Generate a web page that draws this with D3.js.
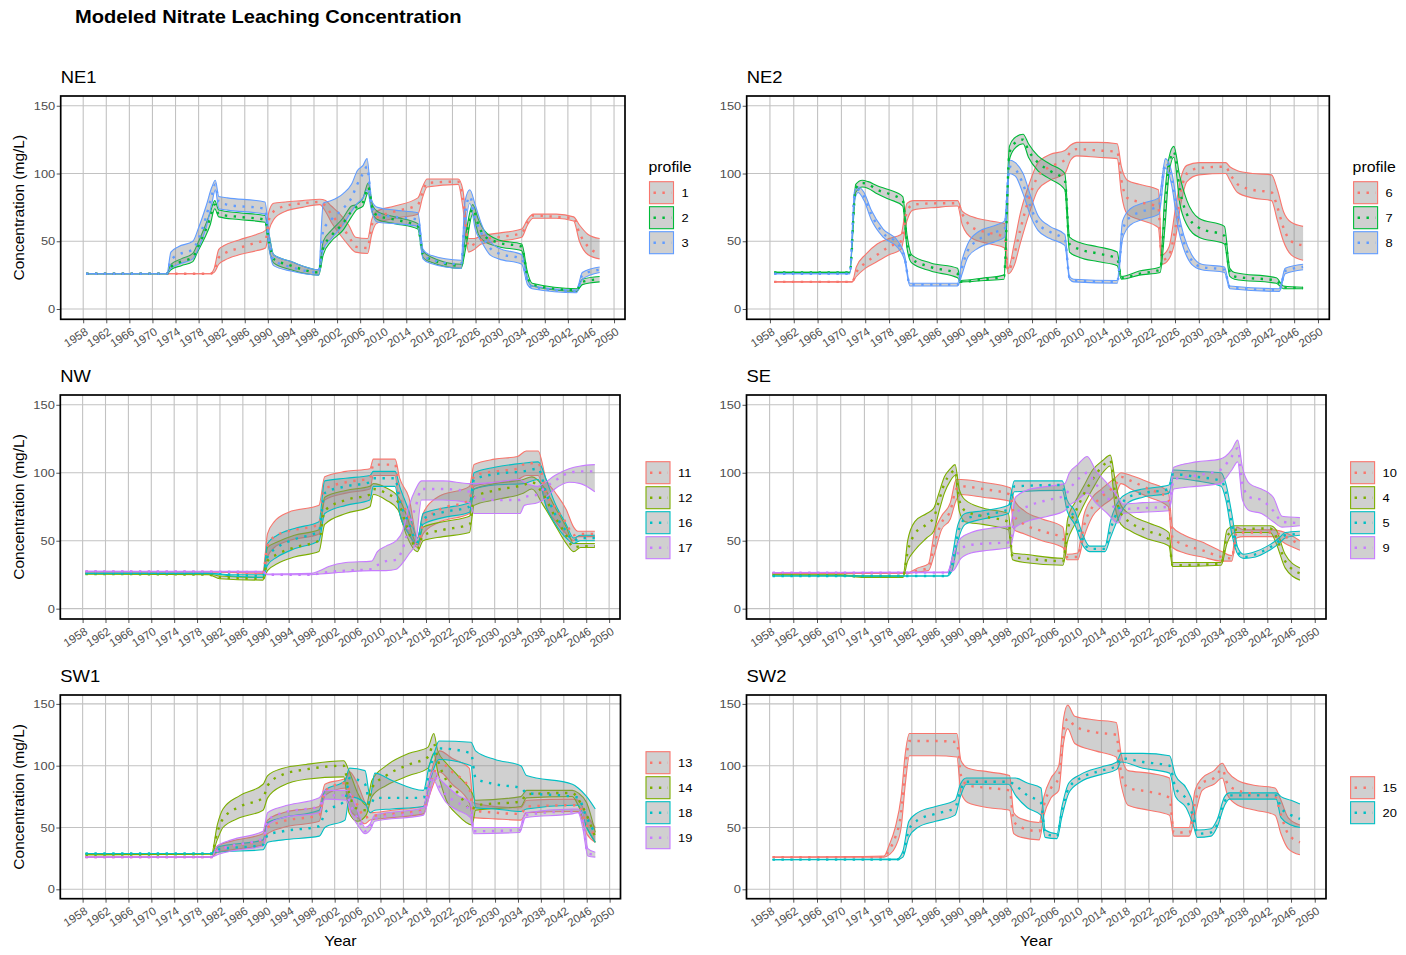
<!DOCTYPE html>
<html>
<head>
<meta charset="utf-8">
<script src="https://cdn.jsdelivr.net/npm/d3@7"></script>
<style>
  body { margin: 0; background: #fff; }
  text { font-family: "Liberation Sans", Arial, sans-serif; }
</style>
</head>
<body>
<div id="chart"></div>
<script>
// each row: [year, min, mean, max]
var ne1_p1 = [[1958.5,26,26,26],[1980,26,26,26],[1980.7,27,28,30],[1981.5,33,38,44],[1982.5,36,41,47],[1985,40,45,51],[1988,43,49,55],[1989.6,45,51,58],[1990.2,58,66,72],[1991,66,72,78],[1993,72,76,79],[1996,75,78,80],[1999,77,79,81],[2000,72,76,80],[2001,64,70,76],[2002.5,55,62,70],[2004,47,54,62],[2005.2,42,46,53],[2007.3,41,45,52],[2008,55,62,66],[2008.8,63,67,72],[2012,67,72,76],[2016,70,77,82],[2016.8,82,86,90],[2017.6,90,93,96],[2023,92,94,96],[2023.8,75,82,88],[2024.8,42,46,52],[2025.8,44,48,52],[2027,48,51,54],[2030,50,53,56],[2034,53,56,59],[2035,62,64,66],[2036,67,69,70],[2040,67,68,70],[2043,65,67,68],[2044,50,56,62],[2045.5,40,46,55],[2047.5,37,41,52]];
var ne1_p2 = [[1958.5,26,26,26],[1972.5,26,26,26],[1973.2,29,31,33],[1975,32,35,37],[1977,35,38,41],[1977.8,42,45,48],[1979,52,56,60],[1980,62,67,71],[1980.8,74,77,80],[1981.5,68,70,73],[1985,66,68,71],[1989.5,64,66,69],[1990.2,45,50,55],[1991,34,37,40],[1994,29,32,35],[1998.8,25,27,29],[1999.6,40,45,50],[2001,50,54,58],[2003,58,63,67],[2004.5,68,72,76],[2005.3,73,75,77],[2006.5,76,79,82],[2007.4,86,90,93],[2008.2,70,73,76],[2009,66,69,72],[2012,63,66,68],[2016,59,61,63],[2016.9,38,40,43],[2018,35,37,39],[2023.5,30,32,33],[2024.3,45,50,55],[2025.5,70,74,77],[2026.5,55,62,66],[2027.5,50,54,58],[2030,46,49,51],[2034,43,46,48],[2035,22,24,27],[2035.8,17,18,19],[2043.5,13,14,15],[2044.5,18,20,22],[2047.5,20,22,24]];
var ne1_p3 = [[1958.5,26,26,26],[1972.5,26,26,26],[1973.2,30,36,42],[1974.5,33,40,46],[1977,37,44,50],[1978,45,52,60],[1979.3,60,68,76],[1980.3,78,84,90],[1980.9,88,92,95],[1981.5,74,79,83],[1983,73,77,82],[1989.5,70,74,79],[1990.2,45,50,56],[1991,32,36,40],[1994,28,31,35],[1998.8,25,27,29],[1999.6,44,58,78],[2001,52,66,80],[2003,62,74,85],[2004.5,72,82,92],[2005.5,78,92,102],[2006.5,82,100,106],[2007.2,88,105,111],[2008,72,76,80],[2009,64,70,75],[2012,63,68,73],[2016,61,66,71],[2016.9,37,40,44],[2018,34,37,40],[2023.5,30,33,36],[2024.2,60,70,80],[2025,78,83,88],[2026,58,66,76],[2027,50,56,63],[2028.5,40,45,50],[2030,37,41,45],[2034,33,37,40],[2035,18,20,22],[2035.8,15,16,17],[2043.5,12,13,14],[2044.5,22,25,27],[2047.5,27,29,31]];

var ne2_p6 = [[1958.7,20,20,20],[1971.8,20,20,20],[1972.5,24,27,31],[1974,30,34,40],[1976,35,40,48],[1978,40,46,52],[1980,44,50,55],[1981,65,72,78],[1982,73,77,80],[1986,75,78,80],[1989.5,76,78,80],[1990.3,62,70,72],[1992,52,60,68],[1995,48,56,65],[1997.4,45,53,63],[1998,26,28,30],[1999,32,40,48],[2000,48,58,70],[2001.5,70,82,92],[2003,88,98,108],[2005,95,105,114],[2007.5,100,110,117],[2008.5,110,116,121],[2009.5,113,118,123],[2013,112,117,123],[2016.3,111,116,122],[2017,85,95,105],[2018,70,82,95],[2020,66,79,92],[2023.2,60,75,88],[2023.8,33,36,40],[2025,37,40,46],[2026,50,58,72],[2027,78,87,97],[2028,94,100,106],[2030,99,104,108],[2034.5,100,105,108],[2035.2,95,100,105],[2036.5,86,92,102],[2039,82,88,100],[2042.2,80,86,99],[2043.2,65,75,88],[2044.2,50,60,72],[2045.5,40,50,64],[2047.5,36,47,61]];
var ne2_p7 = [[1958.7,27,27,27],[1971.4,27,27,27],[1972.4,86,89,92],[1973.5,90,93,95],[1974.5,89,92,94],[1976,85,88,91],[1978,81,85,88],[1980.3,76,80,83],[1981,45,50,55],[1981.8,34,37,40],[1985,28,31,34],[1989.5,23,26,30],[1990,20,20,21],[1994,21,22,23],[1997.3,22,24,25],[1998.2,110,115,120],[1999,118,122,126],[2000.5,122,125,129],[2001.4,112,117,122],[2003,102,108,113],[2005,96,102,107],[2007.5,88,95,100],[2008.3,42,48,53],[2010,38,44,49],[2013,35,41,46],[2016.3,32,37,42],[2017,22,23,24],[2020,25,26,28],[2023.5,27,29,31],[2024.3,60,72,85],[2025,100,106,112],[2025.8,112,116,120],[2026.8,78,88,98],[2028,62,70,80],[2030,53,60,67],[2034.3,48,54,61],[2035.2,24,27,30],[2036,22,24,27],[2043,19,21,23],[2044.2,15,16,17],[2047.5,15,15.5,16]];
var ne2_p8 = [[1958.7,26,26,26],[1971.4,26,26,26],[1972.2,80,84,87],[1972.8,86,88,90],[1973.8,80,83,86],[1975,66,70,73],[1977,53,56,59],[1979.5,45,48,50],[1980.6,36,38,40],[1981.5,17,18,19],[1989.5,17,18,19],[1990.2,25,30,35],[1991.2,38,43,48],[1993,45,51,57],[1996,50,57,62],[1997.4,53,59,65],[1998.2,100,105,110],[1999.2,98,103,108],[2000.5,85,92,100],[2001.8,68,75,83],[2003,58,63,69],[2005,52,57,61],[2007.5,47,51,55],[2008.3,22,23,24],[2009,20,21,22],[2016.3,19,20,21],[2017.2,52,58,65],[2018.5,62,68,74],[2020.5,66,72,78],[2023.3,70,76,82],[2024.4,104,108,111],[2025.5,90,95,100],[2026.5,60,67,73],[2027.5,44,49,54],[2028.8,33,36,40],[2030.5,29,31,33],[2034.3,27,29,31],[2035.2,15,16,17],[2043.5,13,14,15],[2044.5,26,28,30],[2047.5,29,31,33]];

var nw_p11 = [[1958.5,27,27,27],[1980,27,27,27],[1989.5,26,26,27],[1990.3,38,46,55],[1991.5,45,53,64],[1994,50,57,71],[1999.3,55,62,76],[2000.3,80,88,97],[2004,85,93,101],[2008.2,88,96,103],[2008.8,98,106,110],[2012.6,98,106,110],[2013.4,70,83,96],[2015,55,68,82],[2016.5,45,48,52],[2017.5,55,62,70],[2020,63,72,82],[2025.6,70,80,90],[2026.4,90,98,106],[2030,93,101,110],[2034,95,103,112],[2035.5,98,107,116],[2037.6,98,107,116],[2039,75,85,95],[2040.5,65,75,86],[2042.5,55,63,73],[2043.8,50,54,60],[2044.5,53,55,57],[2047.5,53,55,57]];
var nw_p12 = [[1958.5,25.5,25.5,25.5],[1980,25,25,25.5],[1982,22,23,24],[1989.5,21,22,23],[1990.3,28,35,45],[1992,33,40,49],[1995,38,45,54],[1999.3,42,50,58],[2000.3,62,72,82],[2004,70,80,87],[2008.2,75,84,90],[2008.8,84,88,92],[2011,80,85,89],[2013.2,72,78,82],[2014.5,55,62,70],[2016.5,42,44,47],[2017.5,50,54,60],[2021,53,58,64],[2025.6,56,62,68],[2026.4,76,82,88],[2030,80,87,92],[2035,85,91,95],[2036.5,88,93,97],[2038.5,76,84,90],[2040.5,62,68,75],[2042.5,48,54,60],[2043.8,42,45,48],[2045,45,46,48],[2047.5,45,46,48]];
var nw_p16 = [[1958.5,26,26,26],[1980,26,26,26],[1984,24,25,25],[1989.5,23,24,25],[1990.3,32,38,48],[1992,38,45,54],[1995,44,51,59],[1999.3,50,57,64],[2000.3,70,85,94],[2004,76,90,96],[2008.2,80,93,98],[2008.8,90,96,101],[2012.6,90,96,101],[2013.4,70,80,90],[2015,55,63,72],[2016.5,47,49,52],[2017.5,62,66,70],[2021,67,71,74],[2025.6,71,75,78],[2026.4,88,95,100],[2030,91,99,104],[2035,92,101,107],[2037.6,95,103,108],[2039,75,85,95],[2040.5,63,70,78],[2042.5,52,57,62],[2043.8,48,50,52],[2045,50,52,54],[2047.5,50,52,54]];
var nw_p17 = [[1958.5,27.5,27.5,27.5],[1989.5,27,27,27.5],[1990.3,25,25,25.5],[1998,25,25,26],[1999.5,25.5,26,28],[2001,26,27,31],[2004,27,28,34],[2008.5,28,29,35],[2009.5,28,32,42],[2011,28,35,46],[2012.8,29,36,50],[2014,34,45,58],[2015,40,60,75],[2016.2,48,75,88],[2017.2,80,88,94],[2021,80,88,94],[2025.6,78,86,92],[2026.4,70,82,92],[2030,70,80,93],[2034.4,70,80,95],[2035.2,76,82,93],[2037.5,78,84,90],[2038.5,80,88,92],[2040.5,88,94,98],[2043,93,100,103],[2045,92,101,105],[2047.5,86,101,106]];

var se_p10 = [[1958.5,26,26,26],[1981,26,26,26],[1983,27,28,30],[1984.8,28,30,33],[1985.8,40,48,56],[1987,58,63,68],[1988.5,66,72,78],[1989.5,80,88,95],[1990.3,84,90,95],[1994,82,88,93],[1998.6,79,84,89],[1999.3,58,68,80],[2001,55,62,72],[2004,50,57,66],[2007.5,45,52,60],[2008.2,36,38,40],[2010,36,38,41],[2011,52,60,68],[2012.5,68,75,82],[2014,75,82,88],[2016.5,85,92,97],[2017.3,92,97,100],[2019,88,94,98],[2022,82,88,93],[2025.3,75,81,86],[2026,45,52,60],[2028,41,47,54],[2031,38,43,49],[2034.3,35,38,42],[2036,35,37,39],[2036.8,52,56,60],[2038,53,56,58],[2043,53,56,58],[2045,48,53,56],[2047.5,43,47,50]];
var se_p4 = [[1958.5,25,25,25],[1970,24.5,24.5,25],[1974,23,23.5,24],[1980.5,23,23.5,24],[1981.3,35,42,50],[1982.5,43,55,64],[1984.5,52,62,70],[1985.7,57,67,74],[1986.5,70,78,84],[1987.5,85,92,97],[1988.5,94,99,103],[1989.3,98,102,106],[1990,72,80,88],[1991,64,72,80],[1994,62,68,74],[1998.3,58,64,70],[1999,36,38,41],[2001,34,37,40],[2007.5,32,35,37],[2008.3,50,58,66],[2009.5,62,70,78],[2011,76,84,90],[2012.5,88,95,102],[2014.2,100,105,109],[2015.5,105,109,113],[2016.3,75,85,95],[2017.3,62,70,76],[2019,57,63,69],[2022,51,57,63],[2025.4,46,51,56],[2026,31,32,34],[2034.2,32,33,34],[2035.2,48,53,58],[2036.5,56,58,61],[2042.5,56,59,61],[2043.5,48,53,58],[2045,30,35,40],[2047.5,21,26,30]];
var se_p5 = [[1958.5,24,24,24],[1988,24,24,24],[1988.8,28,32,38],[1989.8,50,56,62],[1991,62,66,70],[1994,66,69,72],[1998.3,70,73,76],[1999.3,86,90,94],[2007.4,87,91,94],[2008.2,72,76,80],[2009.5,62,67,72],[2010.8,47,51,55],[2012,42,44,46],[2014.6,42,44,46],[2015.5,52,58,64],[2017,68,74,80],[2018.5,78,82,85],[2021,82,85,88],[2025.4,85,88,91],[2026.1,96,99,102],[2030,94,97,101],[2034.2,90,94,100],[2035,80,86,92],[2036,55,62,70],[2037,40,42,45],[2038,37,38,40],[2040,38,40,42],[2042,42,44,46],[2044,48,50,52],[2045,52,54,56],[2047.5,54,55,57]];
var se_p9 = [[1958.5,26.5,26.5,26.5],[1988,26.5,26.5,27],[1989,28,34,40],[1990.3,37,44,52],[1992,41,47,56],[1995,43,48,59],[1998.6,45,49,61],[1999.5,60,70,82],[2002,65,76,88],[2005,68,80,90],[2007.8,72,83,92],[2008.6,76,88,100],[2010,80,95,106],[2011.6,85,100,112],[2013,78,92,102],[2015,70,82,92],[2016.8,63,72,82],[2017.6,70,73,77],[2021,71,74,78],[2025.4,72,75,79],[2026.2,88,95,104],[2030,90,98,108],[2034,92,102,110],[2036,102,112,117],[2037,108,118,124],[2037.8,80,92,104],[2039,72,82,92],[2041,70,80,88],[2043,64,72,82],[2044.5,60,64,68],[2047.5,61,63,67]];

var sw1_p13 = [[1958.5,26,26,26],[1980.5,26,26,26],[1981.5,30,32,35],[1984,32,35,39],[1989.5,36,40,45],[1990.3,45,50,56],[1993,50,55,62],[1999.3,55,60,67],[2000.3,76,80,85],[2004,82,86,90],[2004.6,65,80,95],[2006,58,68,85],[2007.3,53,58,70],[2008.2,56,59,62],[2012,58,61,64],[2017.5,61,64,67],[2018.5,75,82,88],[2019.5,88,96,105],[2020.3,95,103,112],[2022.5,85,95,106],[2025.5,70,82,98],[2026.2,58,64,70],[2030,57,62,67],[2034.5,56,61,66],[2035.5,62,67,72],[2043.5,63,68,73],[2044.5,63,68,72],[2046,45,52,60],[2047.5,38,44,50]];
var sw1_p14 = [[1958.5,28,28,28],[1980.5,28.5,28.5,29],[1981.5,40,46,52],[1982.5,50,57,65],[1985.5,58,67,76],[1989.5,64,74,85],[1990.3,74,84,92],[1993,84,93,98],[1997,89,97,101],[2003.6,91,100,104],[2004.5,62,78,96],[2006,55,65,78],[2007.5,60,64,68],[2008.5,75,82,88],[2011,84,92,100],[2015,92,101,110],[2018.3,98,107,115],[2019.3,110,118,126],[2020,95,105,112],[2021.5,72,88,102],[2023.5,60,78,92],[2026,52,64,78],[2026.6,64,68,72],[2034.5,67,71,75],[2035.5,74,77,80],[2043.5,75,78,80],[2044.5,68,73,78],[2046,50,60,70],[2047.5,38,42,46]];
var sw1_p18 = [[1958.5,29,29,29],[1980.5,29,29,29],[1981.5,30,32,34],[1989.5,32,36,40],[1990.3,38,44,54],[1993,40,47,58],[1999.3,43,51,64],[2000.3,50,62,80],[2003.8,56,72,88],[2004.6,75,90,98],[2007.3,70,85,96],[2008.2,62,68,75],[2009,64,74,94],[2012,65,74,88],[2017.5,67,74,80],[2018.5,85,95,100],[2019.5,100,110,112],[2020.2,105,114,120],[2025.8,100,110,119],[2026.6,66,90,112],[2030,65,85,105],[2034.5,63,82,100],[2035.5,65,78,92],[2043.5,68,75,85],[2044.5,68,74,82],[2046,50,58,75],[2047.5,38,45,65]];
var sw1_p19 = [[1958.5,26,26,26],[1980.5,26,26,26],[1981.5,28,31,35],[1984,31,35,40],[1989.5,35,41,47],[1990.3,52,56,62],[1993,58,62,67],[1999.3,62,67,74],[2000.3,73,76,80],[2004,72,76,80],[2005,60,66,75],[2006.3,50,55,60],[2007.3,45,47,50],[2008.2,48,50,53],[2009,55,57,60],[2017.5,60,63,66],[2018.5,75,82,88],[2019.3,88,92,96],[2020.2,80,84,90],[2021.5,70,76,84],[2023.5,64,70,76],[2025.7,58,64,70],[2026.3,45,47,50],[2034.3,46,48,50],[2035.3,58,60,62],[2043.5,61,63,65],[2044.5,62,63,65],[2045.3,50,55,60],[2046.2,27,29,33],[2047.5,26,28,30]];

var sw2_p15 = [[1958.5,26,26,26],[1977.3,26,26,27],[1978.2,28,32,36],[1979.2,34,42,50],[1980.2,50,62,75],[1980.9,85,98,110],[1981.6,108,120,126],[1986,108,120,126],[1989.6,107,119,126],[1990.3,78,92,104],[1991.5,70,84,98],[1995,66,82,95],[1998.5,64,80,92],[1999.2,45,55,62],[2000.5,42,50,57],[2003.5,40,47,54],[2004.3,60,68,75],[2005.5,74,82,90],[2006.8,80,90,100],[2007.6,118,128,138],[2008.3,130,138,149],[2009.5,118,132,140],[2013,112,127,137],[2016.5,107,125,135],[2017.3,85,95,110],[2018.5,68,82,96],[2022,64,79,94],[2025.5,60,74,90],[2026.2,43,46,50],[2028.8,43,46,50],[2029.8,60,70,80],[2031,80,86,90],[2033,85,90,96],[2034.4,90,97,102],[2035.3,76,85,95],[2037,68,80,88],[2040,64,77,84],[2043.3,60,75,82],[2044.3,45,60,72],[2045.5,33,45,58],[2047.5,28,38,52]];
var sw2_p20 = [[1958.5,24,24,24],[1979.5,24,24,24.5],[1980.5,26,28,31],[1981.5,42,48,55],[1983,50,56,62],[1986,55,61,67],[1989.3,60,66,72],[1990.2,75,80,85],[1991.2,85,87,90],[1998.3,85,87,90],[1999.5,76,84,90],[2001.5,66,76,86],[2003.8,60,70,82],[2004.5,42,45,48],[2006.5,41,43,45],[2007.3,58,62,66],[2008.5,78,82,86],[2010.5,87,90,93],[2014,93,96,99],[2016.6,97,100,103],[2017.3,103,106,110],[2021,98,103,110],[2025.5,94,100,108],[2026.5,75,82,92],[2028.3,66,73,82],[2029.5,52,58,68],[2030.2,42,45,48],[2032.5,43,46,49],[2033.5,50,52,56],[2034.8,68,71,75],[2035.6,73,76,78],[2043.5,73,76,78],[2044.3,58,66,75],[2046,52,60,72],[2047.5,50,57,69]];

var yearTicks = d3.range(1958, 2051, 4);
var yTicks = [0, 50, 100, 150];
var hue2 = ["#F8766D", "#00BFC4"];
var hue3 = ["#F8766D", "#00BA38", "#619CFF"];
var hue4 = ["#F8766D", "#7CAE00", "#00BFC4", "#C77CFF"];

var panels = [
  { name: "NE1", labels: ["1", "2", "3"], series: [ne1_p1, ne1_p2, ne1_p3], colors: hue3,
    l: 60.7, r: 625, t: 96, b: 319.3, lx: 649.5, ly: 181.7, legendTitle: true, yTitle: true, xTitle: false },
  { name: "NE2", labels: ["6", "7", "8"], series: [ne2_p6, ne2_p7, ne2_p8], colors: hue3,
    l: 746.7, r: 1329.3, t: 96, b: 319.3, lx: 1353.6, ly: 181.7, legendTitle: true, yTitle: false, xTitle: false },
  { name: "NW", labels: ["11", "12", "16", "17"], series: [nw_p11, nw_p12, nw_p16, nw_p17], colors: hue4,
    l: 60.3, r: 620, t: 395, b: 619, lx: 646, ly: 461.7, legendTitle: false, yTitle: true, xTitle: false },
  { name: "SE", labels: ["10", "4", "5", "9"], series: [se_p10, se_p4, se_p5, se_p9], colors: hue4,
    l: 746.5, r: 1326, t: 395, b: 619, lx: 1350.6, ly: 461.7, legendTitle: false, yTitle: false, xTitle: false },
  { name: "SW1", labels: ["13", "14", "18", "19"], series: [sw1_p13, sw1_p14, sw1_p18, sw1_p19], colors: hue4,
    l: 60.3, r: 620.5, t: 695, b: 898.7, lx: 646, ly: 751.7, legendTitle: false, yTitle: true, xTitle: true },
  { name: "SW2", labels: ["15", "20"], series: [sw2_p15, sw2_p20], colors: hue2,
    l: 746.5, r: 1326, t: 695, b: 898.7, lx: 1350.6, ly: 776.7, legendTitle: false, yTitle: false, xTitle: true }
];

var SX = 1.15; // the picture is a bit wider than it is tall, so horizontal text gets stretched

var svg = d3.select("#chart")
  .append("svg")
  .attr("width", 1406)
  .attr("height", 955);

svg.append("rect").attr("width", 1406).attr("height", 955).attr("fill", "#fff");

// horizontal text helper
function htext(parent, x, y, str, size, weight, anchor) {
  return parent.append("text")
    .attr("transform", "translate(" + x + "," + y + ") scale(" + SX + ",1)")
    .attr("font-size", size)
    .attr("font-weight", weight || "normal")
    .attr("text-anchor", anchor || "start")
    .attr("fill", "#000")
    .text(str);
}

htext(svg, 75, 22.5, "Modeled Nitrate Leaching Concentration", 17.5, "bold");

panels.forEach(function (p) {
  var g = svg.append("g");

  var x = d3.scaleLinear().domain([1954.1, 2051.9]).range([p.l, p.r]);
  var y = d3.scaleLinear().domain([-7.6, 157.2]).range([p.b, p.t]);

  // panel title
  htext(g, p.l, p.t - 13, p.name, 16);

  // grid
  g.selectAll(".vgrid")
    .data(yearTicks)
    .enter()
    .append("line")
    .attr("x1", function (d) { return x(d); })
    .attr("x2", function (d) { return x(d); })
    .attr("y1", p.t)
    .attr("y2", p.b)
    .attr("stroke", "#c2c2c2")
    .attr("stroke-width", 1.1);

  g.selectAll(".hgrid")
    .data(yTicks)
    .enter()
    .append("line")
    .attr("x1", p.l)
    .attr("x2", p.r)
    .attr("y1", function (d) { return y(d); })
    .attr("y2", function (d) { return y(d); })
    .attr("stroke", "#c2c2c2")
    .attr("stroke-width", 1.1);

  // ribbons: grey fill, coloured edges
  var area = d3.area()
    .x(function (d) { return x(d[0]); })
    .y0(function (d) { return y(d[1]); })
    .y1(function (d) { return y(d[3]); })
    .curve(d3.curveMonotoneX);
  var loLine = d3.line()
    .x(function (d) { return x(d[0]); })
    .y(function (d) { return y(d[1]); })
    .curve(d3.curveMonotoneX);
  var hiLine = d3.line()
    .x(function (d) { return x(d[0]); })
    .y(function (d) { return y(d[3]); })
    .curve(d3.curveMonotoneX);
  var midLine = d3.line()
    .x(function (d) { return x(d[0]); })
    .y(function (d) { return y(d[2]); })
    .curve(d3.curveMonotoneX);

  p.series.forEach(function (s, i) {
    g.append("path").datum(s).attr("d", area)
      .attr("fill", "#8a8a8a").attr("fill-opacity", 0.4);
    g.append("path").datum(s).attr("d", loLine)
      .attr("fill", "none").attr("stroke", p.colors[i]).attr("stroke-width", 1.1);
    g.append("path").datum(s).attr("d", hiLine)
      .attr("fill", "none").attr("stroke", p.colors[i]).attr("stroke-width", 1.1);
  });

  p.series.forEach(function (s, i) {
    g.append("path").datum(s).attr("d", midLine)
      .attr("fill", "none")
      .attr("stroke", p.colors[i])
      .attr("stroke-width", 2.4)
      .attr("stroke-dasharray", "2.4,6.5");
  });

  // axes
  var xAxis = g.append("g")
    .attr("transform", "translate(0," + p.b + ")")
    .call(d3.axisBottom(x).tickValues(yearTicks).tickSize(4).tickFormat(d3.format("d")));
  xAxis.select(".domain").remove();
  xAxis.selectAll(".tick line").attr("stroke", "#555");
  xAxis.selectAll(".tick text")
    .attr("x", null).attr("y", null).attr("dy", "0.35em")
    .attr("text-anchor", "end")
    .attr("transform", "translate(3,11) rotate(-33)")
    .attr("font-size", 11.6)
    .attr("font-family", "Liberation Sans, Arial, sans-serif")
    .attr("fill", "#4d4d4d");

  var yAxis = g.append("g")
    .attr("transform", "translate(" + p.l + ",0)")
    .call(d3.axisLeft(y).tickValues(yTicks).tickSize(4));
  yAxis.select(".domain").remove();
  yAxis.selectAll(".tick line").attr("stroke", "#555");
  yAxis.selectAll(".tick text")
    .attr("x", null)
    .attr("transform", "translate(-5.5,0) scale(" + SX + ",1)")
    .attr("font-size", 11.2)
    .attr("font-family", "Liberation Sans, Arial, sans-serif")
    .attr("fill", "#4d4d4d");

  // border
  g.append("rect")
    .attr("x", p.l).attr("y", p.t)
    .attr("width", p.r - p.l).attr("height", p.b - p.t)
    .attr("fill", "none").attr("stroke", "#000").attr("stroke-width", 1.7);

  if (p.yTitle) {
    g.append("text")
      .attr("transform", "translate(24," + ((p.t + p.b) / 2) + ") rotate(-90)")
      .attr("text-anchor", "middle")
      .attr("font-size", 15.5)
      .text("Concentration (mg/L)");
  }
  if (p.xTitle) {
    htext(g, (p.l + p.r) / 2, 946, "Year", 14, "normal", "middle");
  }

  // legend
  if (p.legendTitle) {
    htext(g, p.lx - 1, p.ly - 10, "profile", 13.8);
  }
  p.labels.forEach(function (lab, i) {
    var ky = p.ly + i * 25;
    g.append("rect")
      .attr("x", p.lx).attr("y", ky)
      .attr("width", 24).attr("height", 22)
      .attr("fill", "#8a8a8a").attr("fill-opacity", 0.4)
      .attr("stroke", p.colors[i]).attr("stroke-width", 1.1);
    g.append("line")
      .attr("x1", p.lx + 4).attr("x2", p.lx + 22)
      .attr("y1", ky + 11).attr("y2", ky + 11)
      .attr("stroke", p.colors[i]).attr("stroke-width", 2.4)
      .attr("stroke-dasharray", "2.4,6.5");
    htext(g, p.lx + 32, ky + 15, lab, 11.2);
  });
});
</script>
</body>
</html>
